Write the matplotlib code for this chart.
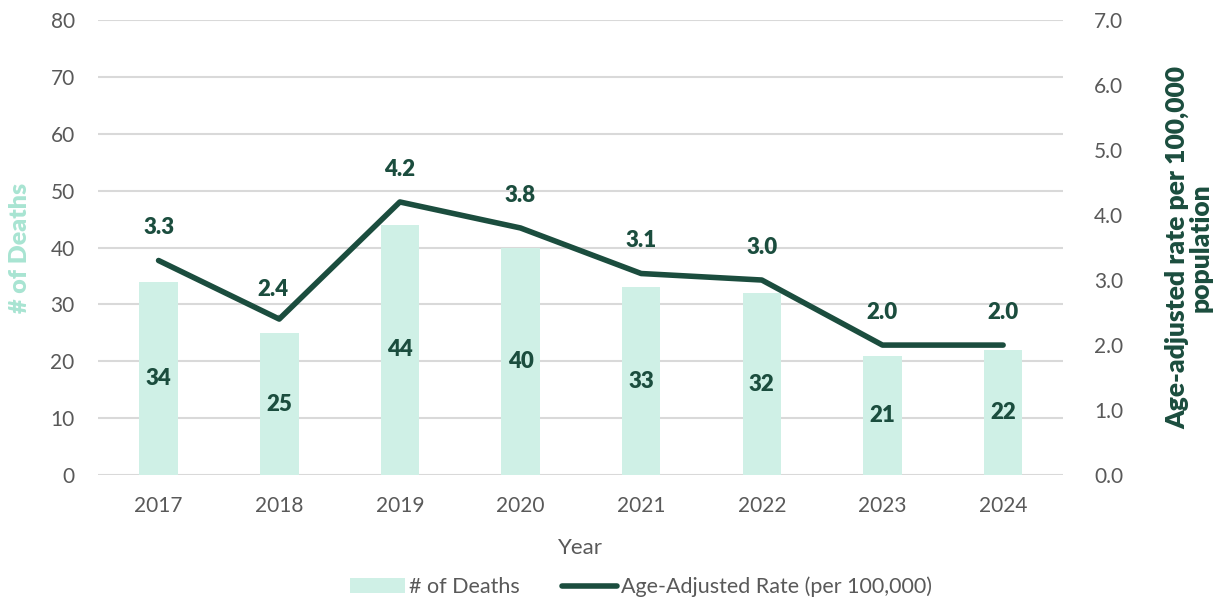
import matplotlib.pyplot as plt
import numpy as np

years = ["2017", "2018", "2019", "2020", "2021", "2022", "2023", "2024"]
deaths = [34, 25, 44, 40, 33, 32, 21, 22]
rates = [3.3, 2.4, 4.2, 3.8, 3.1, 3.0, 2.0, 2.0]

bar_color = "#cff0e6"
line_color = "#1b4d3e"
tick_color = "#595959"

plt.rcParams["font.family"] = ["Lato", "DejaVu Sans"]

fig = plt.figure(figsize=(12.28, 6), dpi=100)
ax = fig.add_axes([0.08, 0.208, 0.786, 0.759])
ax2 = ax.twinx()

x = np.arange(len(years))
ax.bar(x, deaths, width=0.32, color=bar_color, label="# of Deaths", zorder=2)
for xi, d in zip(x, deaths):
    ax.text(xi, d / 2, str(d), ha="center", va="center", fontsize=16,
            fontweight="heavy", color=line_color, zorder=3)

ax2.plot(x, rates, color=line_color, lw=4, solid_capstyle="round",
         label="Age-Adjusted Rate (per 100,000)", zorder=4)
for xi, r in zip(x, rates):
    if xi == 1:
        ax2.annotate(f"{r:.1f}", xy=(xi, r), xytext=(xi - 0.05, r + 0.45),
                     ha="center", va="center", fontsize=16, fontweight="heavy",
                     color=line_color,
                     arrowprops=dict(arrowstyle="-", color="#a6a6a6", lw=1,
                                     shrinkA=9, shrinkB=0))
    else:
        ax2.text(xi, r + 0.5, f"{r:.1f}", ha="center", va="center",
                 fontsize=16, fontweight="heavy", color=line_color)

ax.set_xlim(-0.5, 7.5)
ax.set_ylim(0, 80)
ax.set_yticks(range(0, 81, 10))
ax2.set_ylim(0, 7)
ax2.set_yticks(np.arange(0, 7.01, 1))
ax2.set_yticklabels([f"{v:.1f}" for v in np.arange(0, 7.01, 1)])
ax.set_xticks(x)
ax.set_xticklabels(years)

ax.grid(axis="y", color="#d9d9d9", lw=1.5, zorder=0)
ax.set_axisbelow(True)
for a in (ax, ax2):
    for s in a.spines.values():
        s.set_visible(False)
    a.tick_params(length=0, labelsize=15, colors=tick_color)
ax.tick_params(axis="y", pad=17)
ax.tick_params(axis="x", pad=15)
ax2.tick_params(axis="y", pad=22)

ax.set_xlabel("Year", fontsize=16, color=tick_color, labelpad=16)
ax.set_ylabel("# of Deaths", fontsize=18, fontweight="heavy", color="#a8e4d2",
              labelpad=14)
ax2.set_ylabel("Age-adjusted rate per 100,000\npopulation", fontsize=19,
               fontweight="heavy", color=line_color, labelpad=30,
               linespacing=1.0)

h1, l1 = ax.get_legend_handles_labels()
h2, l2 = ax2.get_legend_handles_labels()
fig.legend(h1 + h2, l1 + l2, loc="center", bbox_to_anchor=(0.522, 0.022),
           ncol=2, frameon=False, fontsize=15.5, labelcolor=tick_color,
           handlelength=2.55, handletextpad=0.2, columnspacing=1.95)

fig.savefig("out.png", dpi=100)
